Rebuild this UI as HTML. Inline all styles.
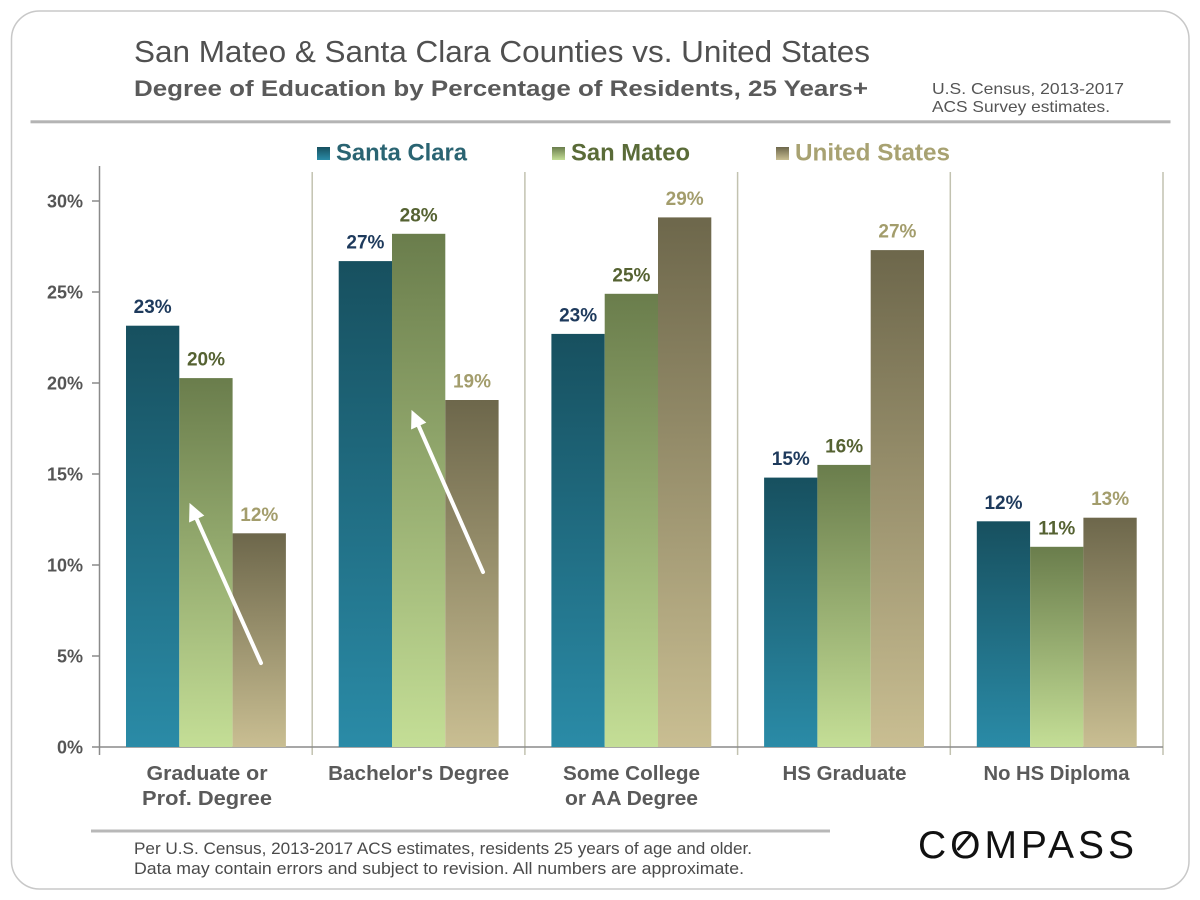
<!DOCTYPE html>
<html>
<head>
<meta charset="utf-8">
<style>
  html, body { margin: 0; padding: 0; background: #ffffff; }
  body { width: 1200px; height: 900px; overflow: hidden; }
  svg { display: block; }
  text { font-family: "Liberation Sans", "DejaVu Sans", sans-serif; }
</style>
</head>
<body>
<svg width="1200" height="900" viewBox="0 0 1200 900" xmlns="http://www.w3.org/2000/svg">
  <defs>
    <linearGradient id="gSC" x1="0" y1="0" x2="0" y2="1">
      <stop offset="0" stop-color="#17505f"/>
      <stop offset="1" stop-color="#2a8ba7"/>
    </linearGradient>
    <linearGradient id="gSM" x1="0" y1="0" x2="0" y2="1">
      <stop offset="0" stop-color="#6a7d4c"/>
      <stop offset="1" stop-color="#c4de96"/>
    </linearGradient>
    <linearGradient id="gUS" x1="0" y1="0" x2="0" y2="1">
      <stop offset="0" stop-color="#6d674b"/>
      <stop offset="1" stop-color="#c9be92"/>
    </linearGradient>
  </defs>

  <rect x="0" y="0" width="1200" height="900" fill="#ffffff"/>
  <!-- outer rounded frame -->
  <rect x="11.5" y="11" width="1177.5" height="878" rx="28" ry="28" fill="#ffffff" stroke="#c8c8c8" stroke-width="1.5"/>

  <!-- header -->
  <text x="134" y="62" font-size="31" fill="#505050" textLength="736" lengthAdjust="spacingAndGlyphs">San Mateo &amp; Santa Clara Counties vs. United States</text>
  <text x="134" y="96" font-size="22" font-weight="bold" fill="#5a5a5a" textLength="734" lengthAdjust="spacingAndGlyphs">Degree of Education by Percentage of Residents, 25 Years+</text>
  <text x="932" y="94" font-size="16" fill="#555555" textLength="192" lengthAdjust="spacingAndGlyphs">U.S. Census, 2013-2017</text>
  <text x="932" y="112" font-size="16" fill="#555555" textLength="178" lengthAdjust="spacingAndGlyphs">ACS Survey estimates.</text>
  <rect x="30.5" y="120.3" width="1140" height="3" fill="#b4b4b4"/>

  <!-- legend -->
  <rect x="317" y="147" width="13" height="13" fill="url(#gSC)"/>
  <text x="336" y="160.5" font-size="24" font-weight="bold" fill="#2a6472" textLength="131" lengthAdjust="spacingAndGlyphs">Santa Clara</text>
  <rect x="552" y="147" width="13" height="13" fill="url(#gSM)"/>
  <text x="571" y="160.5" font-size="24" font-weight="bold" fill="#5a6b38" textLength="119" lengthAdjust="spacingAndGlyphs">San Mateo</text>
  <rect x="776" y="147" width="13" height="13" fill="url(#gUS)"/>
  <text x="795" y="160.5" font-size="24" font-weight="bold" fill="#a8a272" textLength="155" lengthAdjust="spacingAndGlyphs">United States</text>

  <!-- category separators -->
  <g stroke="#c2c2b0" stroke-width="1.5">
    <line x1="312.2" y1="172" x2="312.2" y2="755"/>
    <line x1="524.9" y1="172" x2="524.9" y2="755"/>
    <line x1="737.6" y1="172" x2="737.6" y2="755"/>
    <line x1="950.3" y1="172" x2="950.3" y2="755"/>
    <line x1="1163" y1="172" x2="1163" y2="755"/>
  </g>

  <!-- y axis -->
  <g stroke="#8a8a8a" stroke-width="1.5">
    <line x1="99.5" y1="166" x2="99.5" y2="755"/>
    <line x1="92" y1="747" x2="1163" y2="747"/>
    <line x1="92" y1="201" x2="99.5" y2="201"/>
    <line x1="92" y1="292" x2="99.5" y2="292"/>
    <line x1="92" y1="383" x2="99.5" y2="383"/>
    <line x1="92" y1="474" x2="99.5" y2="474"/>
    <line x1="92" y1="565" x2="99.5" y2="565"/>
    <line x1="92" y1="656" x2="99.5" y2="656"/>
  </g>
  <g font-size="18" font-weight="bold" fill="#555555" text-anchor="end">
    <text x="83" y="207.5">30%</text>
    <text x="83" y="298.5">25%</text>
    <text x="83" y="389.5">20%</text>
    <text x="83" y="480.5">15%</text>
    <text x="83" y="571.5">10%</text>
    <text x="83" y="662.5">5%</text>
    <text x="83" y="753.5">0%</text>
  </g>

  <!-- bars -->
  <rect x="126" y="325.7" width="53.3" height="421.3" fill="url(#gSC)"/>
  <rect x="179.3" y="378.1" width="53.3" height="368.9" fill="url(#gSM)"/>
  <rect x="232.6" y="533.3" width="53.3" height="213.7" fill="url(#gUS)"/>

  <rect x="338.7" y="261.1" width="53.3" height="485.9" fill="url(#gSC)"/>
  <rect x="392" y="233.8" width="53.3" height="513.2" fill="url(#gSM)"/>
  <rect x="445.3" y="400" width="53.3" height="347" fill="url(#gUS)"/>

  <rect x="551.4" y="333.9" width="53.3" height="413.1" fill="url(#gSC)"/>
  <rect x="604.7" y="293.8" width="53.3" height="453.2" fill="url(#gSM)"/>
  <rect x="658" y="217.4" width="53.3" height="529.6" fill="url(#gUS)"/>

  <rect x="764.1" y="477.6" width="53.3" height="269.4" fill="url(#gSC)"/>
  <rect x="817.4" y="464.9" width="53.3" height="282.1" fill="url(#gSM)"/>
  <rect x="870.7" y="250.1" width="53.3" height="496.9" fill="url(#gUS)"/>

  <rect x="976.8" y="521.3" width="53.3" height="225.7" fill="url(#gSC)"/>
  <rect x="1030.1" y="546.8" width="53.3" height="200.2" fill="url(#gSM)"/>
  <rect x="1083.4" y="517.7" width="53.3" height="229.3" fill="url(#gUS)"/>

  <!-- value labels -->
  <g font-size="19" font-weight="bold" text-anchor="middle">
    <text x="152.7" y="313.2" fill="#1e3a5c">23%</text>
    <text x="206" y="365.6" fill="#556232">20%</text>
    <text x="259.3" y="520.8" fill="#a39d6c">12%</text>

    <text x="365.4" y="248.6" fill="#1e3a5c">27%</text>
    <text x="418.7" y="221.3" fill="#556232">28%</text>
    <text x="472" y="387.5" fill="#a39d6c">19%</text>

    <text x="578.1" y="321.4" fill="#1e3a5c">23%</text>
    <text x="631.4" y="281.3" fill="#556232">25%</text>
    <text x="684.7" y="204.9" fill="#a39d6c">29%</text>

    <text x="790.8" y="465.1" fill="#1e3a5c">15%</text>
    <text x="844.1" y="452.4" fill="#556232">16%</text>
    <text x="897.4" y="237.6" fill="#a39d6c">27%</text>

    <text x="1003.5" y="508.8" fill="#1e3a5c">12%</text>
    <text x="1056.8" y="534.3" fill="#556232">11%</text>
    <text x="1110.1" y="505.2" fill="#a39d6c">13%</text>
  </g>

  <!-- white arrows -->
  <g stroke="#ffffff" stroke-width="4" stroke-linecap="round" fill="#ffffff">
    <line x1="261" y1="663" x2="196.5" y2="518.6"/>
    <polygon points="190,504 203.4,515.5 189.6,521.7" stroke-width="1"/>
    <line x1="483" y1="572" x2="418.5" y2="425.6"/>
    <polygon points="412,411 425.4,422.5 411.6,428.7" stroke-width="1"/>
  </g>

  <!-- x axis category labels -->
  <g font-size="20" font-weight="bold" fill="#5a5a5a" text-anchor="middle">
    <text x="207" y="780" textLength="121" lengthAdjust="spacingAndGlyphs">Graduate or</text>
    <text x="207" y="805" textLength="130" lengthAdjust="spacingAndGlyphs">Prof. Degree</text>
    <text x="418.6" y="780" textLength="181" lengthAdjust="spacingAndGlyphs">Bachelor's Degree</text>
    <text x="631.5" y="780" textLength="137" lengthAdjust="spacingAndGlyphs">Some College</text>
    <text x="631.5" y="805" textLength="133" lengthAdjust="spacingAndGlyphs">or AA Degree</text>
    <text x="844.5" y="780" textLength="124" lengthAdjust="spacingAndGlyphs">HS Graduate</text>
    <text x="1056.5" y="780" textLength="146" lengthAdjust="spacingAndGlyphs">No HS Diploma</text>
  </g>

  <!-- footer -->
  <rect x="91" y="829.5" width="739" height="3" fill="#b8b8b8"/>
  <text x="134" y="854" font-size="17" fill="#4a4a4a" textLength="618" lengthAdjust="spacingAndGlyphs">Per U.S. Census, 2013-2017 ACS estimates,  residents 25 years of age and older.</text>
  <text x="134" y="874" font-size="17" fill="#4a4a4a" textLength="610" lengthAdjust="spacingAndGlyphs">Data may contain errors and subject to revision. All numbers are approximate.</text>

  <!-- COMPASS logo -->
  <text x="918" y="858" font-size="39" fill="#111111" textLength="216" lengthAdjust="spacing">COMPASS</text>
  <line x1="958.5" y1="849" x2="969.5" y2="836" stroke="#111111" stroke-width="3" stroke-linecap="round"/>
</svg>
</body>
</html>
